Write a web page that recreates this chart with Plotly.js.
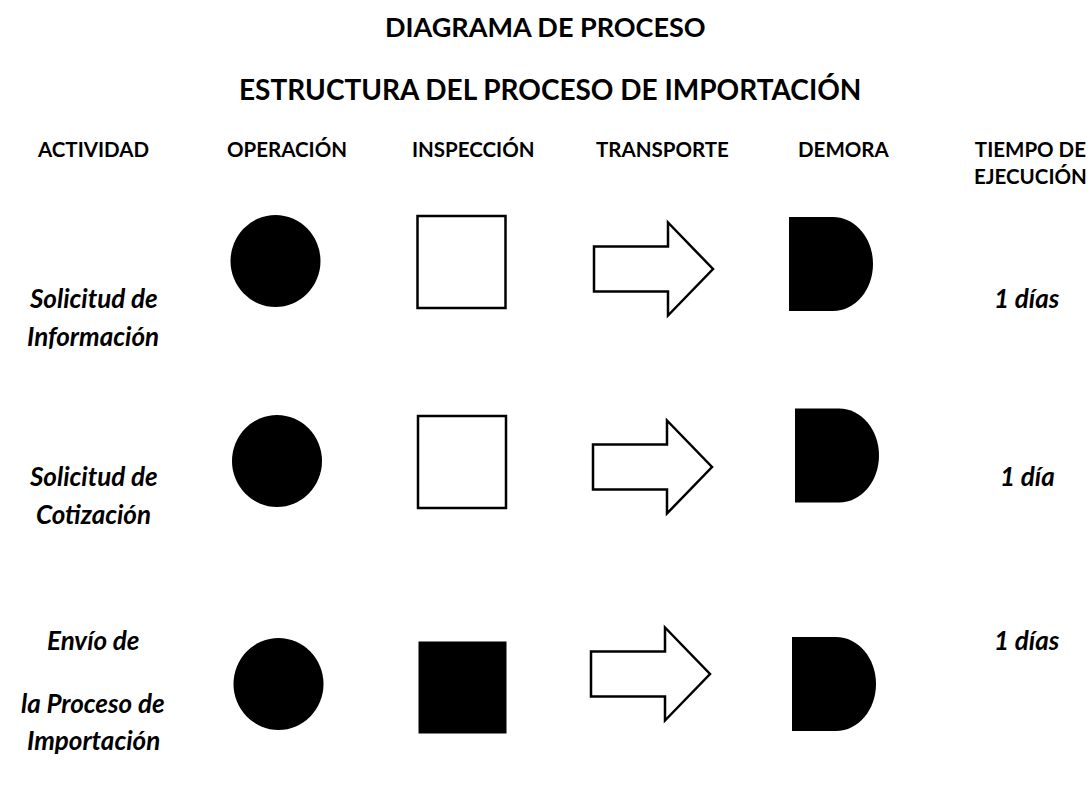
<!DOCTYPE html>
<html><head><meta charset="utf-8">
<script src="https://cdn.plot.ly/plotly-3.0.1.min.js"></script>
<style>html,body{margin:0;padding:0;background:#fff}#chart{width:1090px;height:807px}</style>
</head><body><div id="chart"></div>
<script>
// ---------- data ----------
const mainTitle = 'DIAGRAMA DE PROCESO';
const subTitle = 'ESTRUCTURA DEL PROCESO DE IMPORTACIÓN';
const columnHeaders = ['ACTIVIDAD', 'OPERACIÓN', 'INSPECCIÓN', 'TRANSPORTE', 'DEMORA', 'TIEMPO DE<br>EJECUCIÓN'];
const activityLines = [['Solicitud de', 'Información'], ['Solicitud de', 'Cotización'], ['Envío de', 'la Proceso de', 'Importación']];
const executionTimes = ['1 días', '1 día', '1 días'];
const operationFilled = [true, true, true];
const inspectionFilled = [false, false, true];
const transportFilled = [false, false, false];
const delayFilled = [true, true, true];

// ---------- layout constants (positions in the page's coordinate system) ----------
const FONT = 'Lato, "Open Sans", sans-serif';
const headerX = [93, 287, 473, 662, 843, 1030];
const headerY = 135;
const labelX = 93, timeX = 1027;
const activityLineY = [[298, 336], [476, 514], [640, 703, 740]];
const timeY = [298, 476, 640];
const circleC = [[275.5, 261], [277, 461], [278.5, 684]];
const squareC = [[461.5, 262], [462, 462], [462.5, 687.5]];
const arrowL = [[594, 269], [593, 467], [591, 674]];
const delayL = [[789, 264], [795, 455.5], [792, 684]];

const shapes = [];
const annotations = [];

function ann(text, x, y, size, extra) {
  annotations.push(Object.assign({
    text: text, x: x, y: y, xref: 'x', yref: 'y', showarrow: false,
    xanchor: 'center', yanchor: 'middle',
    font: {family: FONT, size: size, color: '#000'}
  }, extra || {}));
}

ann('<b>' + mainTitle + '</b>', 545, 26, 27);
ann('<b>' + subTitle + '</b>', 550, 89, 28);
columnHeaders.forEach((h, i) => ann('<b>' + h + '</b>', headerX[i], headerY, 20.5, {yanchor: 'top'}));

activityLines.forEach((lines, r) => {
  lines.forEach((t, k) => ann('<b><i>' + t + '</i></b>', labelX, activityLineY[r][k], 26));
  ann('<b><i>' + executionTimes[r] + '</i></b>', timeX, timeY[r], 26);
});

const K = 0.5523;
for (let r = 0; r < activityLines.length; r++) {
  // operation: circle
  const [cx, cy] = circleC[r];
  shapes.push({type: 'circle', xref: 'x', yref: 'y', x0: cx - 45, x1: cx + 45, y0: cy - 46, y1: cy + 46,
    fillcolor: operationFilled[r] ? '#000' : '#fff', line: {color: '#000', width: operationFilled[r] ? 0 : 2.5}});
  // inspection: square
  const [sx, sy] = squareC[r];
  shapes.push({type: 'rect', xref: 'x', yref: 'y', x0: sx - 44, x1: sx + 44, y0: sy - 46, y1: sy + 46,
    fillcolor: inspectionFilled[r] ? '#000' : '#fff', line: {color: '#000', width: inspectionFilled[r] ? 0 : 2.5}});
  // transport: block arrow
  const [al, ay] = arrowL[r];
  const ap = `M${al},${ay - 22.5} H${al + 74} V${ay - 46.5} L${al + 119},${ay} L${al + 74},${ay + 46.5} V${ay + 22.5} H${al} Z`;
  shapes.push({type: 'path', xref: 'x', yref: 'y', path: ap,
    fillcolor: transportFilled[r] ? '#000' : '#fff', line: {color: '#000', width: 2.5}});
  // delay: D shape
  const [dl, dy] = delayL[r];
  const w = 84, hh = 47, flat = 44, rx = w - flat;
  const top = dy - hh, bot = dy + hh, xs = dl + flat, xr = dl + w;
  const dp = `M${dl},${top} H${xs} C${xs + rx * K},${top} ${xr},${dy - hh * K} ${xr},${dy} ` +
             `C${xr},${dy + hh * K} ${xs + rx * K},${bot} ${xs},${bot} H${dl} Z`;
  shapes.push({type: 'path', xref: 'x', yref: 'y', path: dp,
    fillcolor: delayFilled[r] ? '#000' : '#fff', line: {color: '#000', width: 0}});
}

const layout = {
  width: 1090, height: 807,
  margin: {l: 0, r: 0, t: 0, b: 0},
  paper_bgcolor: '#fff', plot_bgcolor: '#fff',
  showlegend: false,
  xaxis: {range: [0, 1090], visible: false, fixedrange: true},
  yaxis: {range: [807, 0], visible: false, fixedrange: true},
  shapes: shapes,
  annotations: annotations
};

Plotly.newPlot('chart', [{x: [], y: [], type: 'scatter', mode: 'markers'}], layout, {staticPlot: true, displayModeBar: false});
</script>
</body></html>
